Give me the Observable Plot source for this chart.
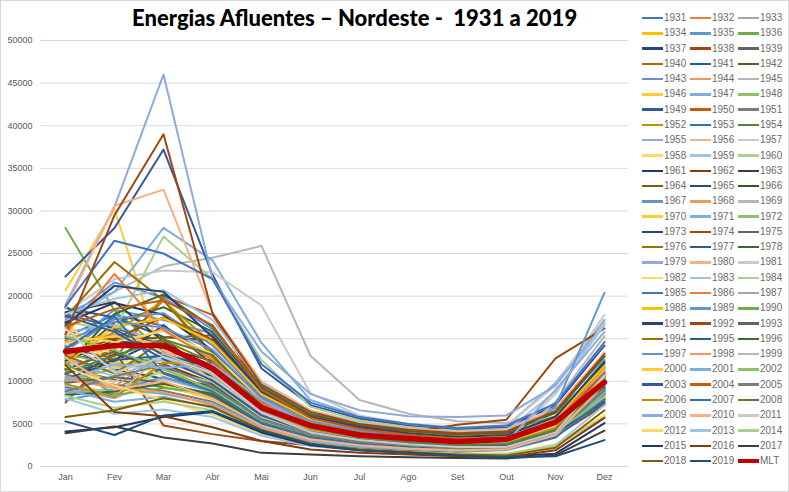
<!DOCTYPE html>
<html><head><meta charset="utf-8">
<script src="https://cdn.jsdelivr.net/npm/d3@7"></script>
<script src="https://cdn.jsdelivr.net/npm/@observablehq/plot@0.6"></script>
<style>
body{margin:0;background:#fff;font-family:"Liberation Sans",Arial,sans-serif;}
#wrap{position:relative;width:789px;height:492px;overflow:hidden;background:#fff;}
#frame{position:absolute;left:0;top:0;width:787px;height:490px;border:1px solid #d9d9d9;pointer-events:none;}
#title{position:absolute;top:4px;left:132px;font-family:Lato,"Liberation Sans",sans-serif;font-weight:900;font-size:22px;white-space:pre;color:#000;}
#chart{position:absolute;left:0;top:0;}
#legend{position:absolute;left:0;top:0;width:789px;height:492px;}
.li{position:absolute;height:12px;font-size:10px;color:#6b6b6b;line-height:12px;white-space:nowrap;}
.sw{position:absolute;left:0;top:5px;width:21px;height:2.5px;}
.lt{position:absolute;left:22px;top:0;}
</style></head><body>
<div id="wrap"><div id="chart"></div><div id="title">Energias Afluentes – Nordeste -  1931 a 2019</div><div id="legend"></div><div id="frame"></div></div>
<script>
const months = ["Jan","Fev","Mar","Abr","Mai","Jun","Jul","Ago","Set","Out","Nov","Dez"];
const firstYear = 1931, lastYear = 2019;
const years = d3.range(firstYear, lastYear + 1).map(String);
const yTicks = [0,5000,10000,15000,20000,25000,30000,35000,40000,45000,50000];

// Monthly affluent energy (MWmed), one row per year 1931..2019, Jan..Dez
const flows = [
[15200,17800,16500,12800,7600,5100,4100,3500,3100,3300,5200,9800],
[10400,9200,11600,8900,5300,3700,3000,2600,2300,2700,4100,8600],
[12600,11100,9800,8400,5100,3600,2900,2500,2300,2600,4800,11800],
[16800,12300,10900,9200,5600,3900,3200,2800,2500,2800,4300,8200],
[13900,18400,17200,15600,9000,5900,4700,4000,3600,3900,5600,12500],
[28000,18300,13500,11200,6900,4700,3800,3300,2900,3100,5000,10400],
[13100,12400,15000,10600,6400,4300,3500,3000,2700,3000,4600,9100],
[7500,13600,4800,3800,3000,2500,2200,1900,1700,2000,3600,7200],
[17900,16300,14100,11900,7200,4900,3900,3300,3000,3100,4900,9600],
[11300,13800,19500,13300,7800,5200,4200,3600,3200,3400,5100,10200],
[18600,17500,15200,14800,8800,5800,4600,3900,3500,3700,5500,11300],
[12100,16900,18700,15800,9100,6000,4800,4100,3700,3900,5900,12100],
[17200,21600,19800,16100,9500,6200,5000,4300,3900,4200,6400,11600],
[14600,15500,13300,12900,7800,5300,4300,3700,3300,3600,5300,10600],
[17000,20500,23500,24500,25900,13000,7800,6200,5300,5100,6900,10800],
[20700,30200,12000,9800,6200,4200,3400,2900,2600,2800,4600,9400],
[18000,20500,28000,24200,14500,7800,5900,5000,4500,4700,9800,17200],
[13300,11800,12500,10700,6500,4500,3600,3100,2800,3000,4700,9000],
[22300,28000,37200,22500,11500,7200,5600,4800,4300,4600,7200,14200],
[14000,12600,20000,17800,9000,5900,4700,4000,3600,3800,5700,11000],
[10800,9600,8900,7600,4700,3300,2700,2300,2100,2300,3800,8000],
[12700,15800,19400,14500,8200,5400,4300,3700,3300,3500,5400,10500],
[9300,8400,11700,9600,5600,3900,3100,2700,2400,2600,4200,8800],
[11500,10200,9300,8200,5000,3500,2800,2400,2200,2400,3900,7700],
[15800,16600,14400,11000,6700,4600,3700,3200,2900,3100,4900,9300],
[11900,9900,13700,10400,6300,4300,3500,3000,2700,2900,4600,9700],
[18000,22000,23000,22800,18900,8600,6000,5000,4600,4800,9500,17800],
[16600,13000,10600,8700,5300,3700,3000,2600,2400,2600,4300,8400],
[12300,10600,12600,11500,6800,4600,3700,3200,2900,3100,4900,9500],
[17000,16000,27000,22000,12500,7000,5400,4600,4200,4400,6700,13000],
[16900,19200,17800,13600,8000,5300,4200,3600,3300,3500,5300,10400],
[9900,13200,12000,9800,5900,4100,3300,2800,2600,2800,4500,9000],
[18100,19300,14700,10400,6100,4100,3300,2800,2500,2700,4000,7400],
[15000,15000,15100,15400,8600,5600,4400,3800,3400,3600,5400,10800],
[10200,12400,16600,12000,7100,4800,3800,3300,3000,3200,5000,9900],
[14200,11400,10300,9500,5800,4000,3200,2800,2500,2700,4500,9300],
[13600,17300,18000,14200,8300,5500,4400,3800,3400,3600,5500,11200],
[12900,14000,16200,12600,7400,5000,4000,3400,3100,3300,5100,10100],
[9100,8000,10300,8700,5200,3600,2900,2500,2300,2500,7600,15300],
[16300,11800,9500,7900,4900,3400,2800,2400,2200,2400,3900,8100],
[8600,9100,8500,7400,4600,3200,2600,2300,2000,2200,3800,8300],
[10000,11500,13100,10900,6500,4400,3500,3000,2700,2900,4800,9600],
[12400,14800,13900,12400,7500,5100,4100,3500,3200,3400,5300,10600],
[13200,15000,17500,14900,8700,5800,4700,4000,4900,5500,12700,16200],
[11400,13500,11000,9200,5600,3900,3100,2700,2400,2600,4300,8900],
[17500,24000,19500,12900,7600,5100,4100,3500,3100,3300,5100,9800],
[18700,16100,13100,11700,7000,4700,3800,3300,3000,3200,5000,10200],
[11800,17900,20200,16400,9300,6100,4900,4200,3800,4000,6300,12900],
[19000,30500,46000,22000,13500,8500,6600,5900,5800,6000,9500,16800],
[18500,30600,32500,18000,10000,6600,5200,4500,4100,4300,6800,13400],
[14300,11500,12300,10400,6300,4300,3500,3000,2700,2900,8500,16800],
[15400,14600,15900,13200,7900,5300,4300,3700,3300,3500,5500,11400],
[17900,19700,20700,17200,9800,6400,5100,4400,4000,4200,8800,16600],
[9600,8700,11300,9900,5800,4000,3200,2800,2500,2700,4400,9100],
[18800,26500,25000,22000,12000,7500,5800,5000,4500,4800,7400,14600],
[15500,22600,16000,12500,7400,5000,4000,3500,3100,3300,5300,11600],
[10600,9400,13200,10000,6000,4100,3300,2900,2600,2800,4400,8500],
[12000,16400,17400,14600,8500,5600,4500,3900,3500,3700,5700,11800],
[7800,8900,10500,8800,5200,3600,2900,2500,2300,2500,7000,20400],
[12200,8400,9200,8600,5100,3500,2800,2400,2200,2300,3800,7900],
[16600,21200,20500,15200,8800,5800,4600,3900,3500,3700,5800,12300],
[15500,29500,39000,18000,9600,6400,5000,4300,3900,4100,6500,13200],
[9800,10500,9800,8300,5000,3400,2700,2300,2100,2200,3600,7400],
[13000,10900,14800,12200,7200,4900,3900,3300,3000,3200,5000,10100],
[10900,12500,13000,10900,6400,4300,3400,2900,2600,2800,4500,9600],
[8400,8800,9700,8500,5100,3500,2800,2400,2200,2300,3900,8600],
[14800,17000,16300,13700,8000,5300,4200,3600,3200,3400,5200,10300],
[10300,9200,8700,7200,4400,3000,2400,2100,1900,2100,3600,7800],
[9500,8200,13300,10800,6400,4300,3400,2900,2600,2800,4600,10500],
[14500,15300,14300,11400,6800,4500,3600,3100,2800,3000,4800,10000],
[9000,7600,8200,6900,4200,2900,2300,2000,1800,1900,3400,8700],
[15300,13700,11400,9000,5400,3700,2900,2500,2200,2400,3900,8300],
[17700,15800,12600,10100,6000,4000,3200,2700,2400,2500,3900,7600],
[16400,18500,19500,16600,9000,5700,4400,3700,3300,3400,5200,10900],
[8800,10600,11900,9400,5500,3700,2900,2500,2200,2300,3900,9100],
[9700,8100,12200,11800,6700,4400,3400,2900,2600,2700,4500,10800],
[13800,17600,10900,8800,5100,3400,2600,2200,1900,2000,3400,7900],
[11000,13000,14900,13100,7100,4600,3500,2900,2500,2600,4300,9900],
[10100,12000,11600,12000,7800,4800,3700,3100,2700,2900,9000,15800],
[12800,9000,10000,8000,4800,3200,2500,2100,1900,2000,3700,9700],
[16200,11000,12900,11000,6300,4000,3100,2600,2300,2300,4000,10700],
[11700,9500,7800,6100,3700,2500,2000,1700,1500,1500,2600,6000],
[8000,6200,6700,5800,3600,2400,1900,1600,1400,1400,2500,7200],
[8300,6900,7600,6600,3900,2600,2000,1700,1500,1500,2400,5800],
[4100,4600,5800,6400,4000,2500,1900,1600,1300,1200,1500,5100],
[11900,6400,5900,4600,3000,2000,1600,1400,1200,1100,1900,5700],
[3900,4700,3400,2700,1600,1400,1200,1100,1000,950,1300,4200],
[5800,6600,8000,7000,4300,2700,2000,1700,1400,1300,2200,6600],
[5300,3700,6000,6500,4200,2600,1900,1600,1300,1100,1200,3100]
];
// Long-term average (MLT)
const mlt = [13500,14200,14200,11500,6900,4800,3700,3300,2900,3200,5200,9900];

// Excel-like series colour variants (style only)
const base = ["#4472C4","#ED7D31","#A5A5A5","#FFC000","#5B9BD5","#70AD47"];
const dark50 = ["#264478","#9E480E","#636363","#997300","#255E91","#43682B"];
const light40 = ["#698ED0","#F1975A","#B7B7B7","#FFCD33","#7CAFDD","#8CC168"];
const dark25 = ["#335AA1","#C55A11","#7C7C7C","#BF9000","#2E75B6","#548235"];
const light60 = ["#8FAADC","#F4B183","#C9C9C9","#FFD966","#9DC3E6","#A9D18E"];
const dark60 = ["#1F3864","#843C0C","#3E3E3E","#7F6000","#1F4E79","#375623"];
const groupOrder = [base,dark50,light40,dark25,light60,dark60,light40,dark50,light60,base,dark50,light40,dark25,light60,dark60];
const colorOf = i => groupOrder[Math.floor(i/6)][i%6];
const mltColor = "#C00000";

const rows = years.flatMap((y,i) => months.map((m,j) => ({year:y, idx:i, month:m, value:flows[i][j]})));
const mltRows = months.map((m,j) => ({month:m, value:mlt[j]}));

const chart = Plot.plot({
  width: 640, height: 492,
  marginLeft: 40, marginRight: 12, marginTop: 40, marginBottom: 26,
  style: {fontFamily: "'Liberation Sans', Arial, sans-serif", fontSize: "9px", color: "#595959", background: "transparent"},
  x: {type: "point", domain: months, padding: 0.5, label: null},
  y: {domain: [0, 50000], label: null},
  color: {type: "identity"},
  marks: [
    Plot.gridY(yTicks, {stroke: "#d9d9d9", strokeOpacity: 1, strokeWidth: 1}),
    Plot.axisY(yTicks, {tickSize: 0, tickPadding: 8, tickFormat: d => String(d), label: null, fill: "#595959"}),
    Plot.axisX({tickSize: 0, tickPadding: 7, label: null, fill: "#595959"}),
    Plot.line(rows, {x: "month", y: "value", z: "year", stroke: d => colorOf(d.idx), strokeWidth: 2, strokeLinejoin: "round", strokeLinecap: "round"}),
    Plot.line(mltRows, {x: "month", y: "value", stroke: mltColor, strokeWidth: 5.5, strokeLinejoin: "round", strokeLinecap: "round"})
  ]
});
document.getElementById("chart").appendChild(chart);

// Legend: 3 columns, row-major
const legendItems = years.map((y,i) => ({label:y, color:colorOf(i), w:2.5})).concat([{label:"MLT", color:mltColor, w:3.5}]);
const leg = document.getElementById("legend");
legendItems.forEach((it,k) => {
  const r = Math.floor(k/3), c = k%3;
  const d = document.createElement("div");
  d.className = "li";
  d.style.left = (642 + c*48) + "px";
  d.style.top = (12 + r*15.28) + "px";
  d.innerHTML = `<div class="sw" style="background:${it.color};height:${it.w}px;top:${6-it.w/2}px"></div><div class="lt">${it.label}</div>`;
  leg.appendChild(d);
});
</script>
</body></html>
